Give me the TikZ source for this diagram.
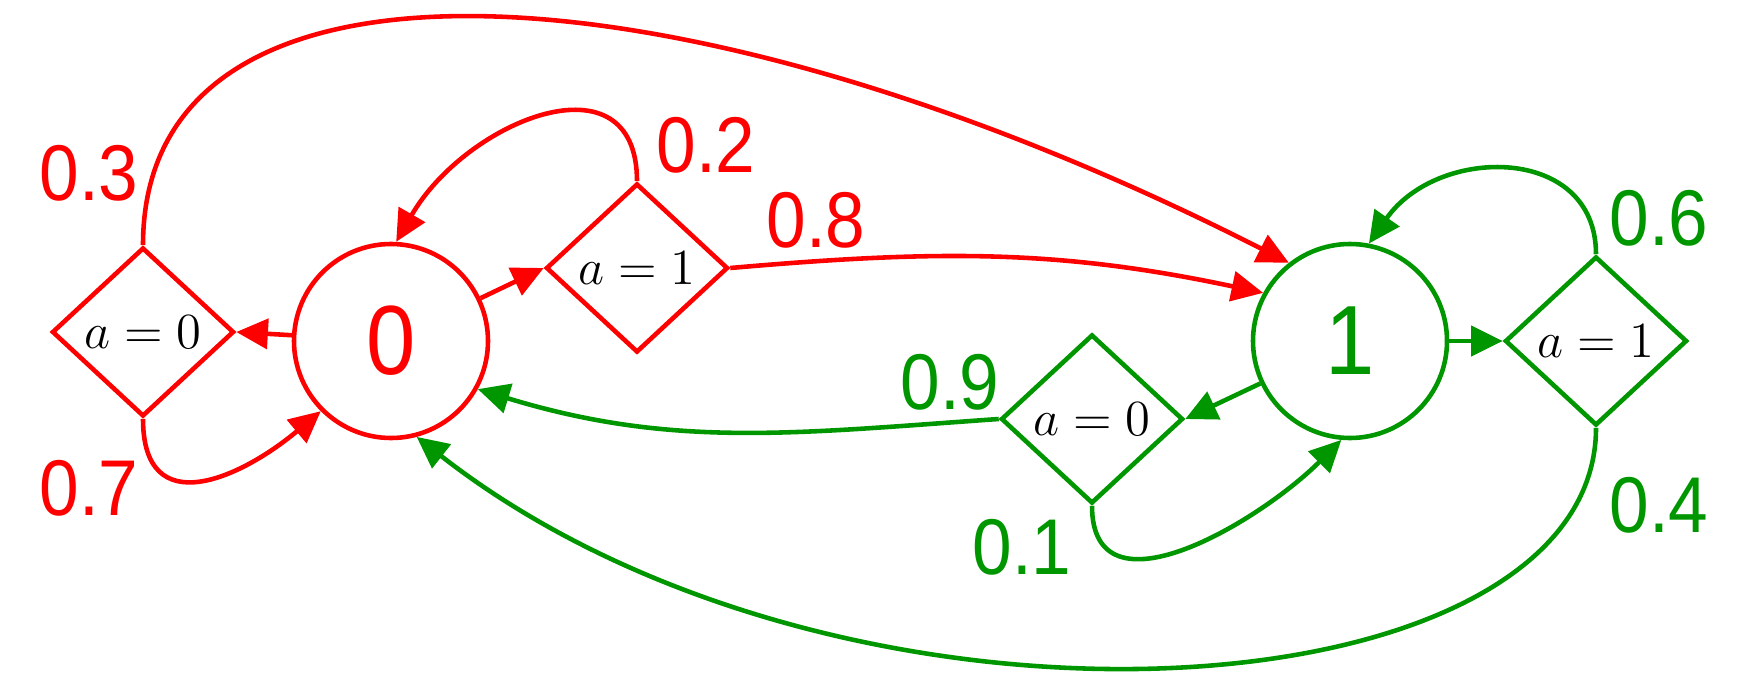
\documentclass[tikz,border=0pt]{standalone}
\usepackage{fontspec}
\usepackage{amsmath}
\usetikzlibrary{shapes.geometric,arrows.meta}
\definecolor{zerored}{RGB}{255,0,0}
\definecolor{onegreen}{RGB}{0,150,0}
\newfontfamily\probfont[FakeStretch=0.9]{Liberation Sans}

\begin{document}
\begin{tikzpicture}[auto]

%
% Styles
%
\tikzstyle{state}  = [circle,draw,line width=1.3pt,minimum size=1.94cm,inner sep=0pt,font=\probfont\fontsize{28}{30}\selectfont]
\tikzstyle{action} = [diamond,line width=1.3pt,minimum width=1.82cm,minimum height=1.69cm,inner sep=0pt,text=black,font=\fontsize{15}{18}\selectfont]
\tikzstyle{prob}   = [font=\probfont\fontsize{22.5}{24}\selectfont]
\tikzstyle{edge}   = [-{Triangle[length=9pt,width=8.5pt]},line width=1.3pt]

\useasboundingbox (0,0) rectangle (17.52,6.72);

\node[state,zerored]  (s0) at ( 3.91, 3.31) {0};
\node[state,onegreen] (s1) at (13.50, 3.31) {1};

\node[action,draw=zerored]  (a00) at ( 1.43, 3.40) {$a=0$};
\node[action,draw=zerored]  (a01) at ( 6.37, 4.04) {$a=1$};
\node[action,draw=onegreen] (a10) at (10.92, 2.53) {$a=0$};
\node[action,draw=onegreen] (a11) at (15.96, 3.31) {$a=1$};

\node[prob,zerored]  (p03) at ( 0.89, 4.99) {0.3};
\node[prob,zerored]  (p07) at ( 0.89, 1.84) {0.7};
\node[prob,zerored]  (p02) at ( 7.06, 5.27) {0.2};
\node[prob,zerored]  (p08) at ( 8.16, 4.52) {0.8};
\node[prob,onegreen] (p09) at ( 9.50, 2.90) {0.9};
\node[prob,onegreen] (p01) at (10.22, 1.25) {0.1};
\node[prob,onegreen] (p06) at (16.59, 4.54) {0.6};
\node[prob,onegreen] (p04) at (16.59, 1.67) {0.4};

% state 0
\draw[edge,zerored] (s0) -- (a00.east);
\draw[edge,zerored] (a00.south) to [out=-90,in=-140,looseness=1.5] (s0.-135);
\draw[edge,zerored] (a00.north) to [out=90,in=153,out distance=3.25cm,in distance=6.7cm] (s1.128);
\draw[edge,zerored] (s0) -- (a01.west);
\draw[edge,zerored] (a01.north) to [out=90,in=60,out distance=1.3cm,in distance=1.4cm] (s0.87);
\draw[edge,zerored] (a01.east) to [out=5,in=168] (s1.151);

% state 1
\draw[edge,onegreen] (s1) -- (a11.west);
\draw[edge,onegreen] (a11.north) to [out=90,in=55,out distance=1.1cm,in distance=1.2cm] (s1.79);
\draw[edge,onegreen] (a11.south) to [out=-90,in=-38,out distance=2.9cm,in distance=5.4cm] (s0.-75);
\draw[edge,onegreen] (s1) -- (a10.east);
\draw[edge,onegreen] (a10.west) to [out=184,in=-17] (s0.-29);
\draw[edge,onegreen] (a10.south) to [out=-90,in=-135,looseness=1.15] (s1.-95);

\end{tikzpicture}
\end{document}
